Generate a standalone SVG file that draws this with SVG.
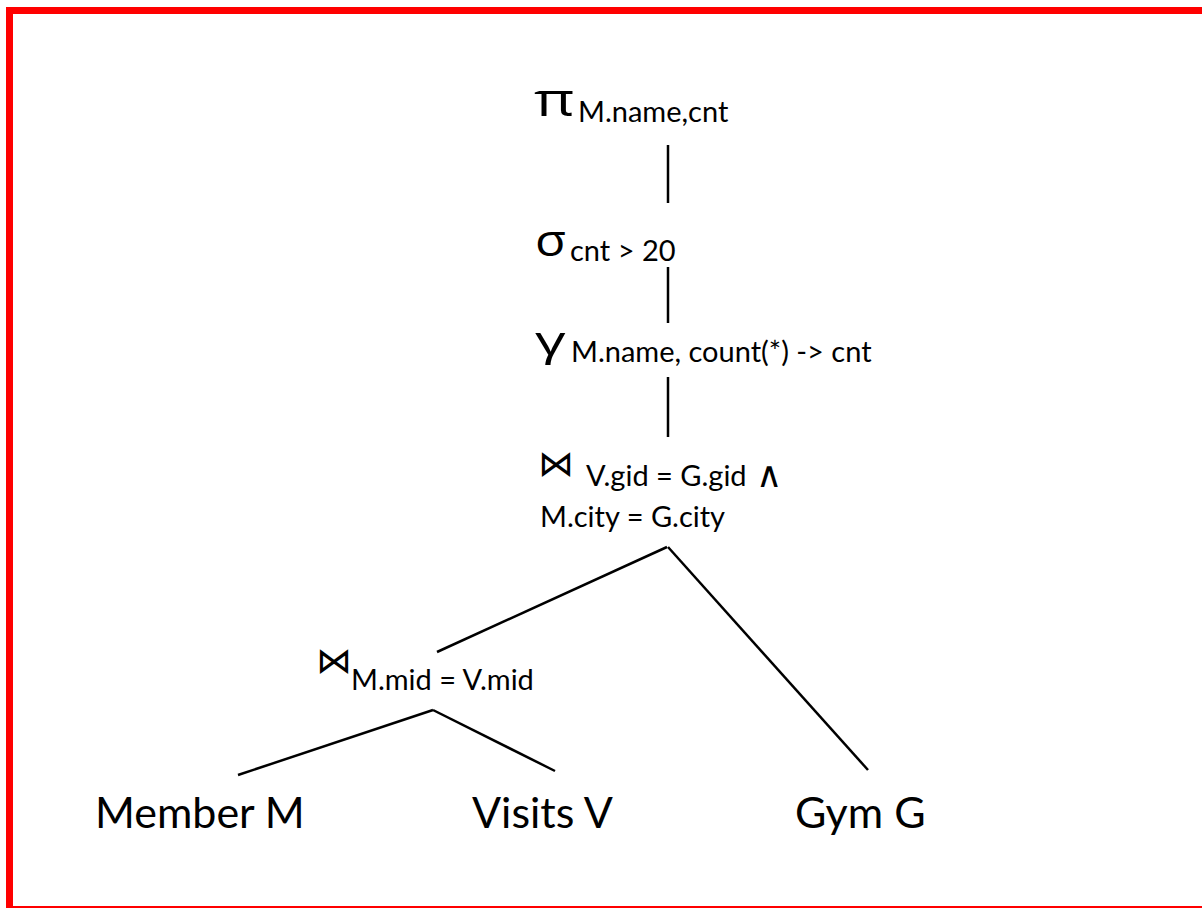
<svg xmlns="http://www.w3.org/2000/svg" width="1202" height="908" viewBox="0 0 1202 908">
<style>
  .t { font-family: Lato, "Open Sans", "DejaVu Sans", sans-serif; fill: #000; }
  .big { font-size: 43px; }
  .sub { font-size: 29px; }
  .gr { font-family: "Open Sans", "DejaVu Sans", sans-serif; fill: #000; }
  .sym { font-family: "DejaVu Sans", sans-serif; font-size: 36px; fill: #000; }
  .edge { stroke: #000; stroke-width: 2.5; fill: none; }
</style>
<rect x="0" y="0" width="1202" height="908" fill="#fff"/>
<g id="border" fill="#ff0000">
  <rect x="6" y="7" width="1196" height="7"/>
  <rect x="6" y="7" width="7" height="901"/>
  <rect x="6" y="906" width="1196" height="2"/>
</g>
<g id="connectors">
  <line class="edge" x1="668" y1="145" x2="668" y2="203"/>
  <line class="edge" x1="668" y1="267" x2="668" y2="323"/>
  <line class="edge" x1="668" y1="377" x2="668" y2="437"/>
  <line class="edge" x1="667" y1="547" x2="437" y2="652"/>
  <line class="edge" x1="668" y1="547" x2="868" y2="770"/>
  <line class="edge" x1="433" y1="710" x2="238" y2="775"/>
  <line class="edge" x1="433" y1="710" x2="555" y2="771"/>
</g>
<g id="project">
  <text class="gr" font-size="46" transform="translate(534,116) scale(1.35,1)">π</text>
  <text class="t sub" x="578" y="122">M.name,cnt</text>
</g>
<g id="select">
  <text class="gr" font-size="44" transform="translate(535,256) scale(1.15,1)">σ</text>
  <text class="t sub" x="570" y="261">cnt &gt; 20</text>
</g>
<g id="group">
  <text class="gr" font-size="40" transform="translate(535,355) scale(1.5,1)">γ</text>
  <text class="t sub" x="571" y="362">M.name, count(*) -&gt; cnt</text>
</g>
<g id="join-top">
  <text class="sym" x="538" y="476">⋈</text>
  <text class="t sub" x="586" y="486">V.gid = G.gid</text>
  <text class="sym" font-size="44" x="756" y="487">∧</text>
  <text class="t sub" x="540" y="527">M.city = G.city</text>
</g>
<g id="join-bottom">
  <text class="sym" x="316" y="673">⋈</text>
  <text class="t sub" x="351" y="690">M.mid = V.mid</text>
</g>
<g id="member">
  <text class="t big" x="95" y="828">Member M</text>
</g>
<g id="visits">
  <text class="t big" x="472" y="828">Visits V</text>
</g>
<g id="gym">
  <text class="t big" x="795" y="828">Gym G</text>
</g>
</svg>
